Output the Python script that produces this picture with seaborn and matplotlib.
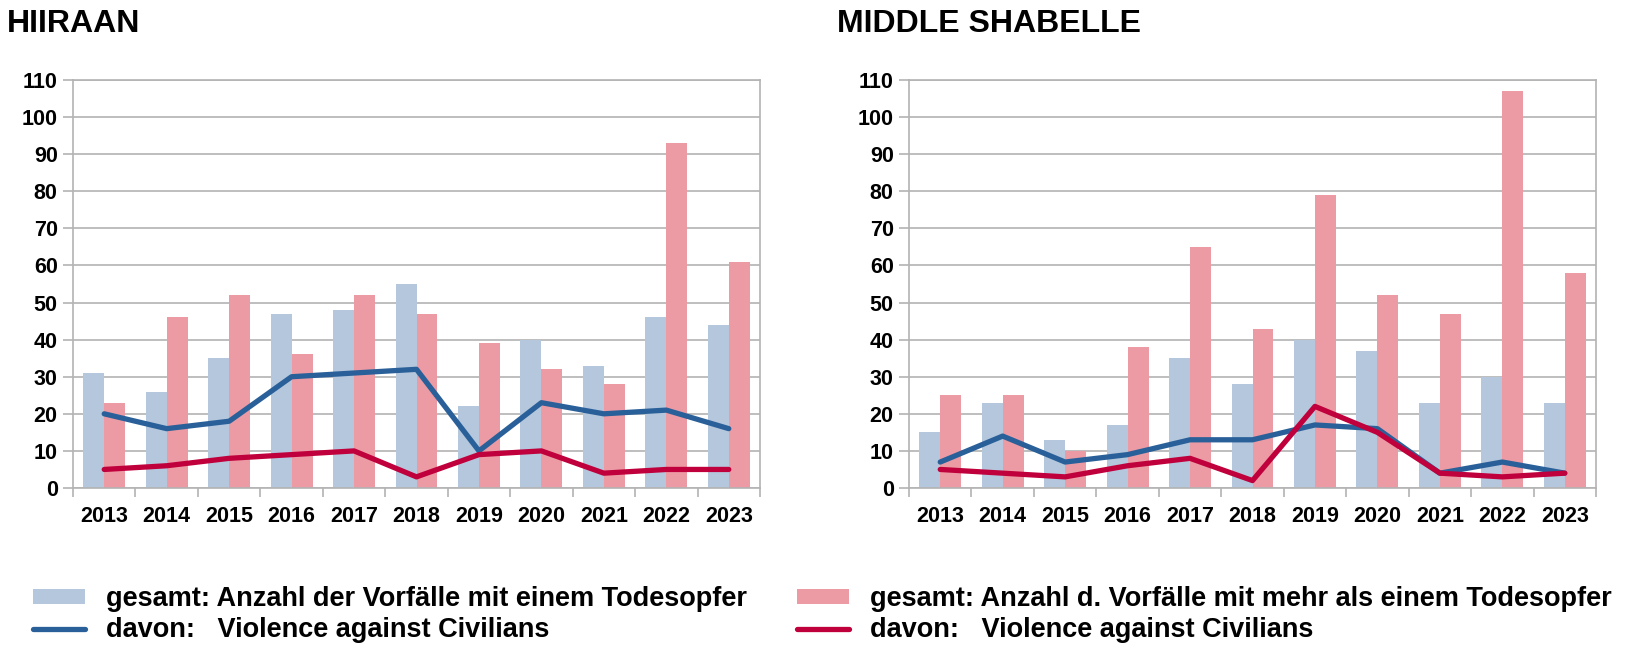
import numpy as np
import pandas as pd
import matplotlib
matplotlib.use("Agg")
import matplotlib.pyplot as plt
from matplotlib.patches import Patch
from matplotlib.lines import Line2D
import seaborn as sns

years = ["2013", "2014", "2015", "2016", "2017", "2018", "2019", "2020", "2021", "2022", "2023"]

# HIIRAAN
hiiraan_single = [31, 26, 35, 47, 48, 55, 22, 40, 33, 46, 44]
hiiraan_multi = [23, 46, 52, 36, 52, 47, 39, 32, 28, 93, 61]
hiiraan_vac_single = [20, 16, 18, 30, 31, 32, 10, 23, 20, 21, 16]
hiiraan_vac_multi = [5, 6, 8, 9, 10, 3, 9, 10, 4, 5, 5]

# MIDDLE SHABELLE
shabelle_single = [15, 23, 13, 17, 35, 28, 40, 37, 23, 30, 23]
shabelle_multi = [25, 25, 10, 38, 65, 43, 79, 52, 47, 107, 58]
shabelle_vac_single = [7, 14, 7, 9, 13, 13, 17, 16, 4, 7, 4]
shabelle_vac_multi = [5, 4, 3, 6, 8, 2, 22, 15, 4, 3, 4]

titles = ["HIIRAAN", "MIDDLE SHABELLE"]
legend_single = "gesamt: Anzahl der Vorfälle mit einem Todesopfer"
legend_multi = "gesamt: Anzahl d. Vorfälle mit mehr als einem Todesopfer"
legend_vac = "davon:   Violence against Civilians"
yticks = list(range(0, 111, 10))

C_LB = "#b4c7dc"
C_PK = "#ec9ba4"
C_BL = "#2a6099"
C_RD = "#c0003c"
C_GR = "#b3b3b3"

sns.set_theme(style="white")
plt.rcParams["font.family"] = ["Liberation Sans", "DejaVu Sans"]
plt.rcParams["font.weight"] = "bold"
plt.rcParams["text.color"] = "black"

W, H = 1626, 650
fig = plt.figure(figsize=(W / 100, H / 100), dpi=100)

ax_w = 687 / W
ax_h = 408 / H
ax_y = 1 - 488 / H
axes = [fig.add_axes([73 / W, ax_y, ax_w, ax_h]),
        fig.add_axes([909 / W, ax_y, ax_w, ax_h])]

datasets = [
    (hiiraan_single, hiiraan_multi, hiiraan_vac_single, hiiraan_vac_multi),
    (shabelle_single, shabelle_multi, shabelle_vac_single, shabelle_vac_multi),
]

for ax, (s, m, vs, vm) in zip(axes, datasets):
    df = pd.DataFrame({
        "year": years * 2,
        "value": s + m,
        "series": ["single"] * len(years) + ["multi"] * len(years),
    })
    sns.barplot(data=df, x="year", y="value", hue="series", order=years,
                hue_order=["single", "multi"], palette=[C_LB, C_PK],
                width=0.67, gap=0, saturation=1, linewidth=0,
                legend=False, ax=ax, zorder=2)
    for vals, col in [(vs, C_BL), (vm, C_RD)]:
        dfl = pd.DataFrame({"year": years, "value": vals})
        sns.pointplot(data=dfl, x="year", y="value", order=years, color=col,
                      markers="", linestyles="-", errorbar=None, ax=ax,
                      linewidth=3.8, zorder=3)
    ax.set_xlim(-0.5, len(years) - 0.5)
    ax.set_ylim(0, 110)
    ax.set_yticks(yticks)
    ax.set_xticks(range(len(years)))
    ax.set_xticklabels(years)
    ax.set_xticks(np.arange(-0.5, len(years)), minor=True)
    ax.set_xlabel("")
    ax.set_ylabel("")
    ax.yaxis.grid(True, color=C_GR, linewidth=1.2, zorder=0)
    ax.xaxis.grid(False)
    ax.set_axisbelow(True)
    for sp in ax.spines.values():
        sp.set_visible(True)
        sp.set_color(C_GR)
        sp.set_linewidth(1.2)
    ax.tick_params(axis="x", which="major", length=0, pad=13,
                   labelsize=15.5, labelcolor="black")
    ax.tick_params(axis="x", which="minor", length=6.5, width=1.2,
                   color=C_GR, bottom=True)
    ax.tick_params(axis="y", length=7, width=1.2, color=C_GR, pad=4,
                   labelsize=15.5, labelcolor="black", left=True)
    for lab in ax.get_xticklabels() + ax.get_yticklabels():
        lab.set_fontweight("bold")

fig.text(7 / W, 1 - 32 / H, titles[0], fontsize=23, fontweight="bold",
         va="baseline", ha="left", color="black")
fig.text(837 / W, 1 - 32 / H, titles[1], fontsize=23, fontweight="bold",
         va="baseline", ha="left", color="black")

leg_kw = dict(loc="upper left", frameon=False, handlelength=1.93,
              handleheight=0.5, handletextpad=0.75, borderpad=0,
              borderaxespad=0, labelspacing=0.2, labelcolor="black",
              prop=dict(weight="bold", size=19.5))
fig.legend(handles=[Patch(facecolor=C_LB, edgecolor="none"),
                    Line2D([], [], color=C_BL, lw=3.8)],
           labels=[legend_single, legend_vac],
           bbox_to_anchor=(33 / W, 1 - 586 / H), **leg_kw)
fig.legend(handles=[Patch(facecolor=C_PK, edgecolor="none"),
                    Line2D([], [], color=C_RD, lw=3.8)],
           labels=[legend_multi, legend_vac],
           bbox_to_anchor=(797 / W, 1 - 586 / H), **leg_kw)

fig.savefig("out.png", dpi=100)
